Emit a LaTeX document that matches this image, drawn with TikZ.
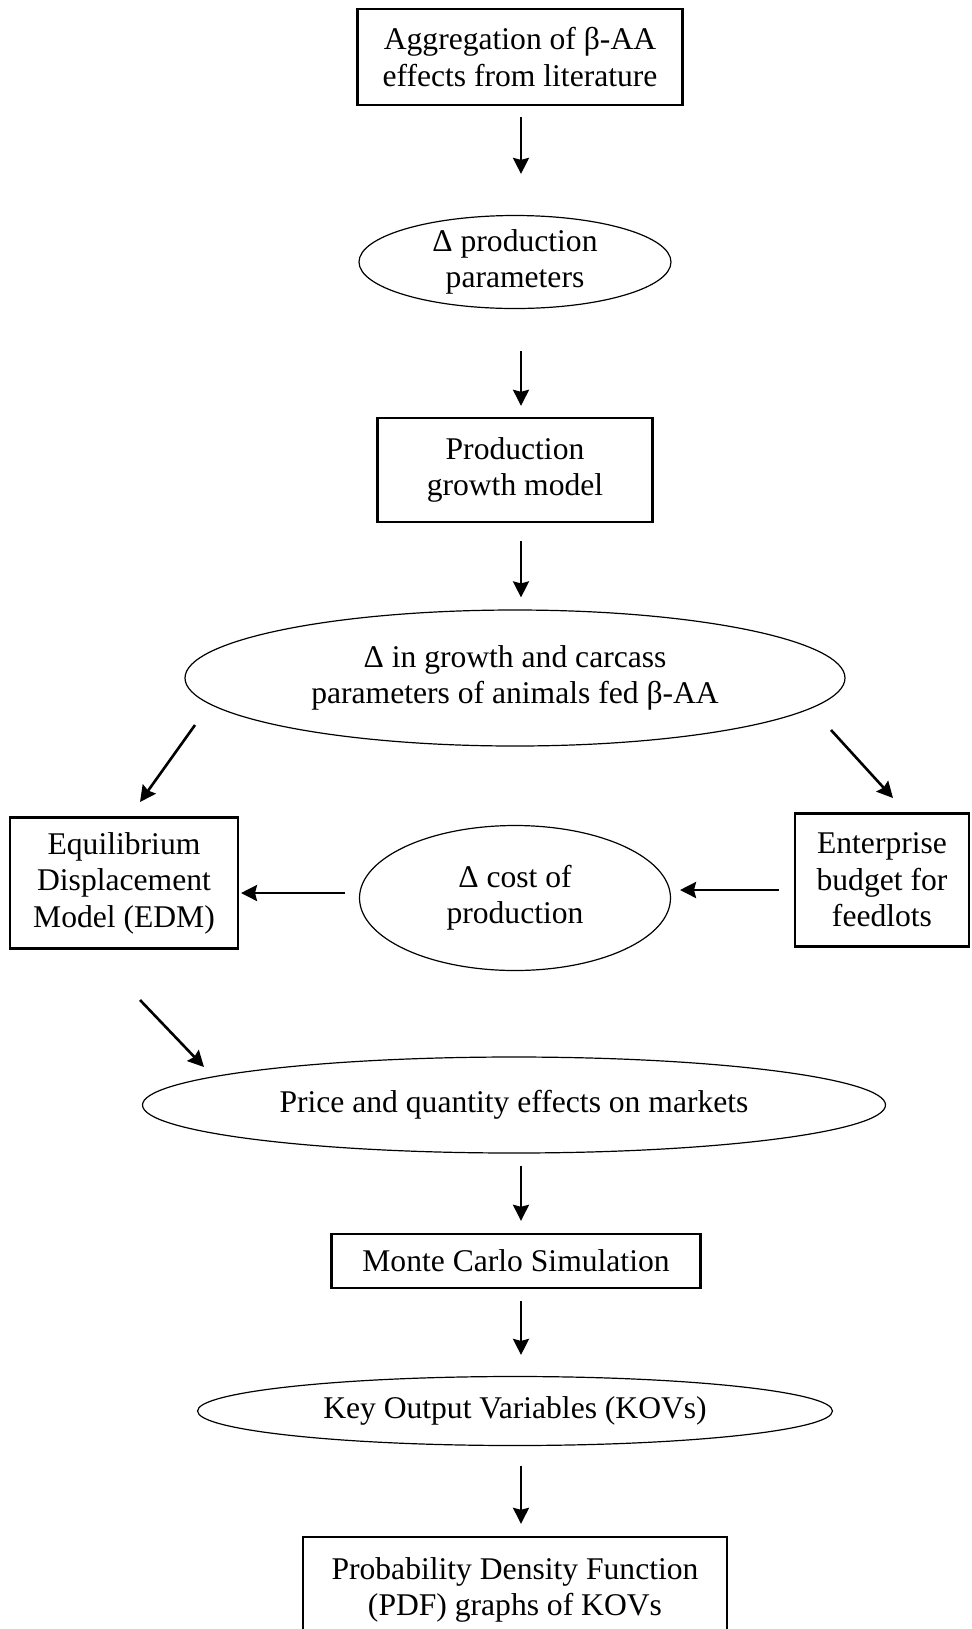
\documentclass[tikz,border=0pt]{standalone}
\usepackage{fontspec}
\setmainfont{Liberation Serif}
\usetikzlibrary{shapes.geometric,arrows.meta}
\tikzset{
  txt/.style={font=\fontsize{15.8}{18.2}\selectfont},
  boxnode/.style={draw,line width=1.2pt,rectangle,inner sep=0pt,align=center,txt},
  ellnode/.style={draw,line width=0.6pt,ellipse,inner sep=0pt,align=center,txt},
  arr/.style={line width=1.3pt,-{Stealth[length=8pt,width=8pt,inset=1pt]}}
}
\begin{document}
\begin{tikzpicture}[x=0.5pt,y=-0.5pt]
\useasboundingbox (0,0) rectangle (971,1629);
\node[boxnode,minimum width=162.5pt,minimum height=48pt] (agg) at (520,57) {Aggregation of β-AA\\effects from literature};
\node[ellnode,minimum width=156pt,minimum height=46.5pt] (dprod) at (515,262) {Δ production\\parameters};
\node[boxnode,minimum width=137.5pt,minimum height=52pt] (growth) at (515,470) {Production\\growth model};
\node[ellnode,minimum width=330pt,minimum height=68pt] (dgrowth) at (515,678) {Δ in growth and carcass\\parameters of animals fed β-AA};
\node[boxnode,minimum width=114pt,minimum height=65.5pt] (edm) at (124,883) {Equilibrium\\Displacement\\Model (EDM)};
\node[ellnode,minimum width=155.5pt,minimum height=72.5pt] (dcost) at (515,898) {Δ cost of\\production};
\node[boxnode,minimum width=87pt,minimum height=66.5pt] (budget) at (882,880) {Enterprise\\budget for\\feedlots};
\node[ellnode,minimum width=371.5pt,minimum height=48pt] (price) at (514,1105) {Price and quantity effects on markets};
\node[boxnode,minimum width=184.5pt,minimum height=27pt] (mc) at (516,1261) {Monte Carlo Simulation};
\node[ellnode,minimum width=317.5pt,minimum height=34.5pt] (kov) at (515,1411) {Key Output Variables (KOVs)};
\node[boxnode,minimum width=212pt,minimum height=53pt] (pdf) at (515,1590) {Probability Density Function\\(PDF) graphs of KOVs};

\draw[arr,shorten <=5.5pt,shorten >=20.5pt] ([xshift=0.5pt]agg.south) -- ([xshift=3pt]dprod.north);
\draw[arr,shorten <=21pt,shorten >=5.5pt] ([xshift=3pt]dprod.south) -- ([xshift=3pt]growth.north);
\draw[arr,shorten <=9pt,shorten >=6pt] ([xshift=3pt]growth.south) -- ([xshift=3pt]dgrowth.north);
\coordinate (l1) at (195,725);
\coordinate (l2) at (140,802);
\draw[arr] (l1) -- (l2);
\coordinate (r1) at (831,730);
\coordinate (r2) at (893,798);
\draw[arr] (r1) -- (r2);
\coordinate (h1) at (345,893);
\coordinate (h2) at (241,893);
\draw[arr] (h1) -- (h2);
\coordinate (h3) at (779,890);
\coordinate (h4) at (680,890);
\draw[arr] (h3) -- (h4);
\coordinate (d1) at (140,1000);
\coordinate (d2) at (204,1067);
\draw[arr] (d1) -- (d2);
\draw[arr,shorten <=6pt,shorten >=6pt] ([xshift=3.5pt]price.south) -- ([xshift=2.5pt]mc.north);
\draw[arr,shorten <=6pt,shorten >=10.5pt] ([xshift=2.5pt]mc.south) -- ([xshift=3pt]kov.north);
\draw[arr,shorten <=10pt,shorten >=6pt] ([xshift=3pt]kov.south) -- ([xshift=3pt]pdf.north);
\end{tikzpicture}
\end{document}
